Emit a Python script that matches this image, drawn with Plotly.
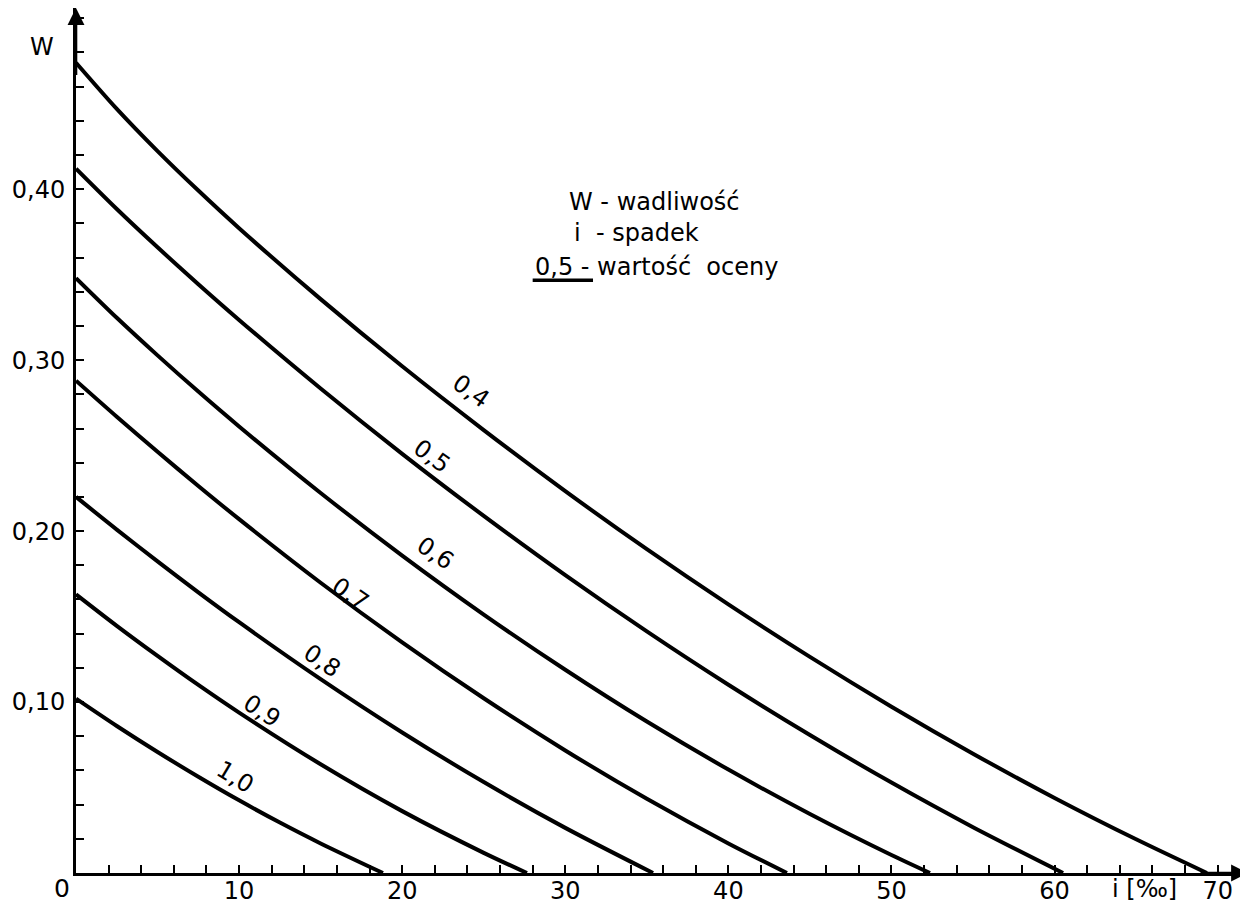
import plotly.graph_objects as go

# ---- data (i = slope [‰], W = defectiveness) ----
ratings = ["0,4", "0,5", "0,6", "0,7", "0,8", "0,9", "1,0"]

i_04 = [0, 2.5, 5, 7.5, 10, 15, 20, 25, 30, 35, 40, 45, 50, 55, 60, 65, 69.34]
w_04 = [0.474, 0.4470, 0.4223, 0.3992, 0.3772, 0.3357, 0.2964, 0.2591, 0.2234,
        0.1894, 0.1571, 0.1264, 0.0973, 0.0698, 0.0439, 0.0197, 0.0]

i_05 = [0, 2.5, 5, 7.5, 10, 15, 20, 25, 30, 35, 40, 45, 50, 55, 60.52]
w_05 = [0.412, 0.3884, 0.3660, 0.3444, 0.3235, 0.2834, 0.2452, 0.2089, 0.1742,
        0.1413, 0.1101, 0.0807, 0.0529, 0.0268, 0.0]

i_06 = [0, 2.5, 5, 7.5, 10, 15, 20, 25, 30, 35, 40, 45, 50, 52.36]
w_06 = [0.348, 0.3248, 0.3028, 0.2816, 0.2612, 0.2223, 0.1857, 0.1512, 0.1189,
        0.0886, 0.0605, 0.0345, 0.0105, 0.0]

i_07 = [0, 2.5, 5, 7.5, 10, 15, 20, 25, 30, 35, 40, 43.59]
w_07 = [0.288, 0.2669, 0.2464, 0.2264, 0.2070, 0.1698, 0.1349, 0.1022, 0.0717,
        0.0434, 0.0173, 0.0]

i_08 = [0, 2.5, 5, 7.5, 10, 15, 20, 25, 30, 35.38]
w_08 = [0.220, 0.2009, 0.1823, 0.1642, 0.1467, 0.1134, 0.0822, 0.0532, 0.0264, 0.0]

i_09 = [0, 2.5, 5, 7.5, 10, 15, 20, 25, 27.65]
w_09 = [0.163, 0.1446, 0.1270, 0.1100, 0.0938, 0.0636, 0.0362, 0.0118, 0.0]

i_10 = [0, 2.5, 5, 7.5, 10, 12.5, 15, 18.82]
w_10 = [0.102, 0.0860, 0.0708, 0.0563, 0.0425, 0.0295, 0.0173, 0.0]

curves_i = [i_04, i_05, i_06, i_07, i_08, i_09, i_10]
curves_w = [w_04, w_05, w_06, w_07, w_08, w_09, w_10]

# curve label anchor points (data units) and text angle
label_i = [24.2, 21.8, 22.0, 16.8, 15.1, 11.4, 9.75]
label_w = [0.282, 0.244, 0.187, 0.163, 0.124, 0.095, 0.056]
label_angle = [35, 36, 34, 34, 34, 33, 31]

x_tickvals = [10, 20, 30, 40, 50, 60, 70]
x_ticktext = ["10", "20", "30", "40", "50", "60", "70"]
y_tickvals = [0.10, 0.20, 0.30, 0.40]
y_ticktext = ["0,10", "0,20", "0,30", "0,40"]

FONT = "DejaVu Sans"
X_MAX = 71.86
Y_MAX = 0.506


def txt(x, y, s, ref="data", size=24, angle=0, xanchor="center"):
    d = dict(x=x, y=y, text=s, showarrow=False, textangle=angle,
             xanchor=xanchor, yanchor="middle",
             font=dict(family=FONT, size=size, color="black"))
    if ref == "paper":
        d.update(xref="paper", yref="paper")
    else:
        d.update(xref="x", yref="y")
    return d


fig = go.Figure()
for xs, ws, name in zip(curves_i, curves_w, ratings):
    fig.add_trace(go.Scatter(
        x=xs, y=ws, mode="lines", name=name,
        line=dict(color="black", width=4, shape="spline", smoothing=0.8),
        hoverinfo="skip", showlegend=False, cliponaxis=False,
    ))

annotations = []
for t, xi, yw, ang in zip(ratings, label_i, label_w, label_angle):
    annotations.append(txt(xi, yw, t, angle=ang))

# axis arrows
annotations.append(dict(x=0, y=Y_MAX, ax=0, ay=Y_MAX - 0.04, xref="x", yref="y", axref="x", ayref="y",
                        showarrow=True, arrowhead=2, arrowsize=1.3, arrowwidth=2.6, arrowcolor="black", text=""))
annotations.append(dict(x=X_MAX, y=0, ax=X_MAX - 3, ay=0, xref="x", yref="y", axref="x", ayref="y",
                        showarrow=True, arrowhead=2, arrowsize=1.3, arrowwidth=2.6, arrowcolor="black", text=""))

# axis names and origin
annotations.append(txt(-0.029, 0.955, "W", ref="paper", size=24))
annotations.append(txt(-0.012, -0.018, "0", ref="paper", size=25))
annotations.append(txt(0.912, -0.019, "i [‰]", ref="paper", size=24))

# explanation block
annotations.append(txt(30.1, 0.3924, "W - wadliwość", xanchor="left"))
annotations.append(txt(30.4, 0.3743, "i  - spadek", xanchor="left"))
annotations.append(txt(28.0, 0.3544, "0,5 - wartość  oceny", xanchor="left"))

fig.add_shape(type="line", x0=28.0, x1=31.7, y0=0.3468, y1=0.3468, xref="x", yref="y",
              line=dict(color="black", width=3.5))

# the page body has an 8 px margin: the figure is shifted by it, so it is 8 px smaller
fig.update_layout(
    width=1240, height=896,
    margin=dict(l=68, r=0, t=0, b=31),
    paper_bgcolor="white", plot_bgcolor="white",
    showlegend=False,
    annotations=annotations,
    font=dict(family=FONT, size=24, color="black"),
)
fig.update_xaxes(
    range=[0, X_MAX], showgrid=False, zeroline=False,
    showline=True, linecolor="black", linewidth=3,
    tickmode="array", tickvals=x_tickvals, ticktext=x_ticktext,
    ticks="inside", ticklen=8, tickwidth=2, tickcolor="black",
    minor=dict(dtick=2, tick0=0, ticks="inside", ticklen=8, tickwidth=2, tickcolor="black", showgrid=False),
    tickfont=dict(family=FONT, size=24, color="black"),
    ticklabelstandoff=-6, automargin=False,
)
fig.update_yaxes(
    range=[0, Y_MAX], showgrid=False, zeroline=False,
    showline=True, linecolor="black", linewidth=3,
    tickmode="array", tickvals=y_tickvals, ticktext=y_ticktext,
    ticks="inside", ticklen=8, tickwidth=2, tickcolor="black",
    minor=dict(dtick=0.02, tick0=0, ticks="inside", ticklen=8, tickwidth=2, tickcolor="black", showgrid=False),
    tickfont=dict(family=FONT, size=24, color="black"),
    ticklabelstandoff=3, automargin=False,
)

fig.write_html("out.html")
